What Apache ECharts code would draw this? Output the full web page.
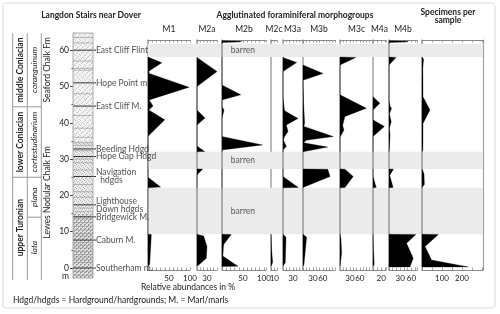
<!DOCTYPE html>
<html><head><meta charset="utf-8">
<script src="https://cdn.jsdelivr.net/npm/echarts@6/dist/echarts.min.js"></script>
<style>html,body{margin:0;padding:0;background:#fff}#c{width:500px;height:314px}</style>
</head><body><div id="c"></div>
<script>
// ---------------- DATA ----------------
// each morphogroup: [depth (m), relative abundance (%)]
const M1  = [[58.1,0],[56.5,33],[54.2,2],[53.6,3],[49.8,98],[46.3,3],[44.6,12],[43.5,2],[40.8,40],[36.3,0],[25.0,0],[22.3,30],[22.1,0],[9.3,0],[9.2,8],[5,6],[1,4],[0.5,0]];
const M2a = [[58.0,0],[54.1,60],[50.0,0],[43.5,0],[41.3,24],[39.4,0],[33.6,0],[32.1,23],[32.0,0],[27.3,0],[27.25,17],[25.6,0],[9.3,0],[8.8,20],[5.9,30],[2.7,28],[0.8,5],[0.5,0]];
const M2b = [[62.6,0],[62.45,47],[62.25,40],[62.1,0],[50.4,0],[47.7,45],[46.3,0],[44.4,0],[43.5,5],[41.3,0],[36.2,0],[33.9,97],[32.5,0],[9.3,0],[9.2,22],[6.5,4],[3.3,2],[0.5,38],[0.4,0]];
const M2c = [[9.3,0],[5,2],[1.5,5],[0.5,0]];
const M3a = [[58.0,0],[56.6,41],[54.1,0],[47.0,0],[44.5,3],[43.3,5],[41.2,45],[39.4,10],[37.6,15],[36.2,5],[35.3,1],[33.5,10],[32.5,0],[25.2,0],[22.2,46],[22.1,0],[9.3,0],[8.5,9],[1.5,7],[0.5,0]];
const M3b = [[55.9,0],[53.6,61],[51.7,0],[45,2],[40,5],[39.0,3],[36.2,92],[35.2,10],[34.5,2],[33.3,75],[32.0,0],[27.3,0],[27.2,75],[25.2,82],[22.2,0],[9.3,0],[8.5,11],[1,3],[0.5,0]];
const M3c = [[58.1,0],[58.0,48],[55.9,0],[47.7,0],[44.0,80],[41.7,15],[39.3,8],[38.0,12],[36.0,0],[27.3,0],[27.2,15],[25.2,40],[22.2,15],[22.1,0],[9.3,0],[8,3],[4,5],[0.5,0]];
const M4a = [[47.2,0],[45.4,17],[43.5,0],[40.8,0],[39.0,28],[36.2,0],[25.2,0],[22.2,8],[22.1,0],[9.3,0],[5,1],[1,3],[0.5,0]];
const M4b = [[62.6,0],[62.45,52],[62.25,45],[62.1,0],[58.1,0],[58.0,19],[55.9,0],[46,0],[44.5,3],[44.0,7],[42.5,1],[40.3,6],[38.5,1],[36.5,3],[33,1],[32,0],[27.3,0],[27.2,12],[25.5,2],[22.2,11],[22.1,0],[9.3,0],[9.25,72],[6.8,47],[2.7,65],[0.3,56],[0.25,0]];
const specimens = [[58.1,0],[57.5,8],[55,4],[50,5],[47.2,5],[43.5,40],[39.8,5],[35,5],[32.5,4],[32,0],[27.3,0],[26,10],[23,12],[22.2,0],[9.3,0],[9.25,82],[5.9,15],[2.2,48],[0.3,232],[0.25,0]];

const panelNames = ['M1','M2a','M2b','M2c','M3a','M3b','M3c','M4a','M4b',''];
const panelLabels = [[50,100],[30],[50,100],[10],[30],[30,60],[30,60],[20],[30,60],[100,200]];
const panelMax = [100,60,105,18,57,97,100,32,75,305];
const panelTick = [10,10,10,10,10,10,10,10,10,50];

const barrenTop  = [61.7, 32.0, 22.1];
const barrenBase = [58.1, 27.3, 9.3];

const depthTicks = [0,10,20,30,40,50,60];
const depthMinor = [5,15,25,35,45,55];

const markerNames  = ['East Cliff Flint','Hope Point m.','East Cliff M.','Beeding Hdgd','Hope Gap Hdgd','Navigation\n  hdgds','Lighthouse\nDown hdgds','Bridgewick M.','Caburn M.','Southerham m.'];
const markerDepths = [60.0, 51.0, 44.6, 32.8, 30.7, 25.2, 17.4, 14.1, 7.7, 0.0];
const bedLines = [63.5,62,57,55,54.5,48,42,38.5,36,34.5,33.8,32.3,30,29,27,23,21,19.5,16.5,15.5,13.5,12.5,11.5,10.5,9.5,8.8,7,6.3,5.5,4.5,3.7,3,2.2,1.5,-1,-2];
const lithoTops  = [64.73, 35, 15];
const lithoBases = [35, 15, -2.75];

const stageNames = ['middle Coniacian','lower Coniacian','upper Turonian'];
const stageBounds = [64.73, 44.4, 25, -2.75];
const zoneNames = ['coranguinum','cortestudinarium','plana','lata'];
const zoneBounds = [64.73, 44.4, 25, 14, -2.75];
const fmNames = ['Seaford Chalk Fm','Lewes Nodular Chalk Fm'];
const fmBounds = [64.73, 44.4, -2.75];

// ---------------- CHART ----------------
const FONT = "Lato, 'Noto Sans', sans-serif";
const FS = 8.5, FSA = 8;
const YMIN = -0.55, YMAX = 62.8, TOP = 40, BOTTOM = 44;
const lefts  = [148,197,222,271,283,303,340,373,389,422];
const widths = [42,20,44,6,19,32,33,13,28,61];
const panelData = [M1,M2a,M2b,M2c,M3a,M3b,M3c,M4a,M4b,specimens];

const chart = echarts.init(document.getElementById('c'), null, {renderer:'canvas'});
const grids=[], xAxes=[], yAxes=[], series=[];
const axisGray = '#8a8a8a';

// band grid (index 0)
grids.push({left:148, width:335, top:TOP, bottom:BOTTOM});
xAxes.push({gridIndex:0, type:'value', min:0, max:1, show:false});
yAxes.push({gridIndex:0, type:'value', min:YMIN, max:YMAX, show:false});
series.push({type:'custom', xAxisIndex:0, yAxisIndex:0, silent:true, z:1, clip:false,
  data: barrenTop.map((t,i)=>[0,t,barrenBase[i]]), encode:{x:0,y:[1,2]},
  renderItem:(p,api)=>{const a=api.coord([0,api.value(1)]), b=api.coord([1,api.value(2)]);
    return {type:'rect', shape:{x:a[0],y:a[1],width:b[0]-a[0],height:b[1]-a[1]}, style:{fill:'#ebebeb'}};}
});

panelData.forEach((pts,i)=>{
  const gi = grids.length;
  grids.push({left:lefts[i], width:widths[i], top:TOP, bottom:BOTTOM});
  const common = {gridIndex:gi, type:'value', min:0, max:panelMax[i], interval:panelTick[i], splitLine:{show:false},
    axisLine:{show:true, onZero:false, lineStyle:{color:axisGray, width:1}},
    axisTick:{show:true, inside:true, length:2.5, lineStyle:{color:axisGray, width:0.8}}};
  const xb = xAxes.length;
  xAxes.push(Object.assign({}, common, {position:'bottom',
    axisLabel:{show:true, customValues:panelLabels[i], fontSize:FSA, color:'#222', margin:4, fontFamily:FONT}}));
  xAxes.push(Object.assign({}, common, {position:'top', axisLabel:{show:false},
    name:panelNames[i], nameLocation:'middle', nameGap:6, nameTextStyle:{fontSize:FS, color:'#222', fontFamily:FONT}}));
  const yi = yAxes.length;
  yAxes.push({gridIndex:gi, type:'value', min:YMIN, max:YMAX, position:'left', splitLine:{show:false},
    axisLine:{show:true, onZero:false, lineStyle:{color:'#a3a3a3', width:1.5}}, axisTick:{show:false}, axisLabel:{show:false}});
  if (i === panelData.length-1) {
    yAxes.push({gridIndex:gi, type:'value', min:YMIN, max:YMAX, position:'right', splitLine:{show:false},
      axisLine:{show:true, onZero:false, lineStyle:{color:'#a3a3a3', width:1.2}}, axisTick:{show:false}, axisLabel:{show:false}});
  }
  series.push({type:'custom', xAxisIndex:xb, yAxisIndex:yi, z:5, clip:false, silent:true,
    data: pts.map(p=>[p[1],p[0]]), encode:{x:0,y:1},
    renderItem:(params,api)=>{
      if (params.dataIndex!==0) return null;
      const poly=[api.coord([0,pts[0][0]])];
      pts.forEach(p=>poly.push(api.coord([p[1],p[0]])));
      poly.push(api.coord([0,pts[pts.length-1][0]]));
      return {type:'polygon', shape:{points:poly}, style:{fill:'#000', stroke:'#000', lineWidth:0.3}};
    }});
  if (panelNames[i]==='M2b') {
    series.push({type:'scatter', xAxisIndex:xb, yAxisIndex:yi, symbolSize:0, silent:true, z:6,
      data: barrenTop.map((t,k)=>[50,(t+barrenBase[k])/2]),
      label:{show:true, position:'inside', formatter:'barren', fontSize:FS, color:'#333', fontFamily:FONT}});
  }
});

// lithology column grid
const LG = grids.length;
grids.push({left:73, width:20, top:33, bottom:36});
const LX = xAxes.length;
xAxes.push({gridIndex:LG, type:'value', min:0, max:1, show:false});
const LY = yAxes.length;
yAxes.push({gridIndex:LG, type:'value', min:-2.75, max:64.73, position:'left', splitLine:{show:false},
  axisLine:{show:true, onZero:false, lineStyle:{color:'#666', width:1}},
  axisTick:{show:true, customValues:depthTicks, length:3, lineStyle:{color:'#444'}},
  axisLabel:{show:true, customValues:depthTicks.concat([-2.4]), formatter:v=>v<0?'m':String(v), fontSize:FS, color:'#222', margin:4, fontFamily:FONT}});
yAxes.push({gridIndex:LG, type:'value', min:-2.75, max:64.73, position:'left', splitLine:{show:false},
  axisLine:{show:false}, axisTick:{show:true, customValues:depthMinor, length:1.5, lineStyle:{color:'#444'}}, axisLabel:{show:false}});

function pattern(size, dots, bg, col){
  const c=document.createElement('canvas'); c.width=c.height=size;
  const g=c.getContext('2d'); g.fillStyle=bg; g.fillRect(0,0,size,size);
  g.fillStyle=col; dots.forEach(([x,y])=>g.fillRect(x,y,1,1)); return c;
}
const pats = [
  {image:pattern(5,[[0,0],[2,2],[4,4],[1,3],[3,1]],'#f4f4f4','#c4c4c4'), repeat:'repeat'},
  {image:pattern(4,[[0,0],[2,1],[1,2],[3,3]],'#eeeeee','#b5b5b5'), repeat:'repeat'},
  {image:pattern(4,[[0,0],[1,0],[2,2],[3,2],[0,1],[2,3]],'#e4e4e4','#9e9e9e'), repeat:'repeat'}
];
series.push({type:'custom', xAxisIndex:LX, yAxisIndex:LY, silent:true, z:2, clip:false,
  data: lithoTops.map((t,i)=>[0,t,lithoBases[i],i]), encode:{x:0,y:[1,2]},
  renderItem:(p,api)=>{const a=api.coord([0,api.value(1)]), b=api.coord([1,api.value(2)]);
    return {type:'rect', shape:{x:a[0],y:a[1],width:b[0]-a[0],height:b[1]-a[1]}, style:{fill:pats[api.value(3)]}};}
});
series.push({type:'custom', xAxisIndex:LX, yAxisIndex:LY, silent:true, z:3, clip:false,
  data: bedLines.map(d=>[0,d]), encode:{x:0,y:1},
  renderItem:(p,api)=>{const a=api.coord([0,api.value(1)]), b=api.coord([1,api.value(1)]);
    return {type:'line', shape:{x1:a[0],y1:a[1],x2:b[0],y2:b[1]}, style:{stroke:'#8d8d8d', lineWidth:0.6}};}
});
series.push({type:'custom', xAxisIndex:LX, yAxisIndex:LY, silent:true, z:4, clip:false,
  data: markerDepths.map(d=>[0,d]), encode:{x:0,y:1},
  renderItem:(p,api)=>{const a=api.coord([0,api.value(1)]), b=api.coord([1.15,api.value(1)]);
    return {type:'line', shape:{x1:a[0],y1:a[1],x2:b[0],y2:b[1]}, style:{stroke:'#333', lineWidth:1}};}
});
series.push({type:'custom', xAxisIndex:LX, yAxisIndex:LY, silent:true, z:4, clip:false,
  data: [[0,64.73,-2.75]], encode:{x:0,y:[1,2]},
  renderItem:(p,api)=>{const a=api.coord([0,api.value(1)]), b=api.coord([1,api.value(2)]);
    return {type:'rect', shape:{x:a[0],y:a[1],width:b[0]-a[0],height:b[1]-a[1]}, style:{fill:'none', stroke:'#999', lineWidth:0.8}};}
});
series.push({type:'scatter', xAxisIndex:LX, yAxisIndex:LY, symbolSize:0, silent:true, z:6,
  data: markerDepths.map((d,i)=>({value:[1,d], name:markerNames[i]})),
  label:{show:true, position:'right', distance:3, formatter:p=>p.name, fontSize:FS, lineHeight:8, color:'#222', fontFamily:FONT}});

chart.setOption({animation:false, backgroundColor:'#fff', grid:grids, xAxis:xAxes, yAxis:yAxes, series:series});

// ---- annotation graphics (depths converted through the lithology y axis) ----
const py = d => chart.convertToPixel({yAxisIndex:LY}, d);
const g = [];
g.push({type:'rect', shape:{x:3,y:3,width:492,height:305,r:3}, style:{fill:'none', stroke:'#dcdcdc', lineWidth:1}, silent:true});
const txt = (x,y,text,opt)=>g.push({type:'text', x, y, style:Object.assign({text, fontSize:FS, fontFamily:FONT, fill:'#222', textAlign:'center', textVerticalAlign:'middle'}, opt||{}), silent:true});
txt(91,15,'Langdon Stairs near Dover',{fontWeight:'bold'});
txt(295,15,'Agglutinated foraminiferal morphogroups',{fontWeight:'bold'});
txt(448,8,'Specimens per\nsample',{fontWeight:'bold', lineHeight:8, textVerticalAlign:'top'});
txt(188,287,'Relative abundances in %');
txt(13,300,'Hdgd/hdgds = Hardground/hardgrounds; M. = Marl/marls',{textAlign:'left'});

const colX = [12.7, 27.3, 41.3];
const yT = py(64.73), yB = py(-2.75)+2;
colX.forEach(x=>g.push({type:'line', shape:{x1:x,y1:yT,x2:x,y2:yB}, style:{stroke:'#999', lineWidth:1}, silent:true}));
function column(names, bounds, x0, x1, opt, divide){
  names.forEach((n,i)=>{
    const ya = py(bounds[i]), yb = py(bounds[i+1]);
    g.push({type:'text', x:(x0+x1)/2, y:(ya+yb)/2, rotation:Math.PI/2,
      style:Object.assign({text:n, fontSize:FS, fontFamily:FONT, fill:'#222', textAlign:'center', textVerticalAlign:'middle'}, opt), silent:true});
    if (divide && i>0) g.push({type:'line', shape:{x1:x0,y1:ya,x2:x1,y2:ya}, style:{stroke:'#999', lineWidth:1}, silent:true});
  });
}
column(stageNames, stageBounds, 12.7, 27.3, {fontWeight:'bold'}, true);
column(zoneNames, zoneBounds, 27.3, 41.3, {fontStyle:'italic'}, true);
column(fmNames, fmBounds, 41.3, 53, {}, false);
chart.setOption({graphic:g});
</script></body></html>
